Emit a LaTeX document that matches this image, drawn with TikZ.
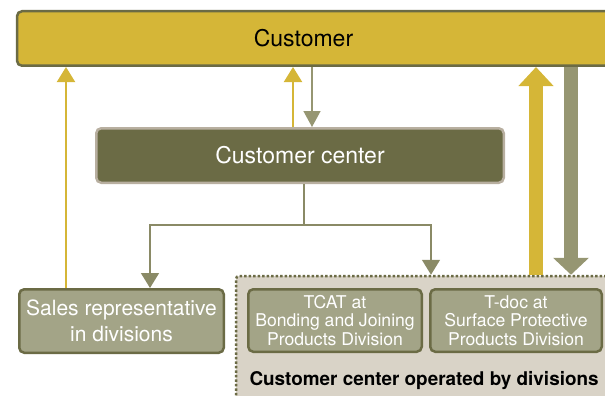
\documentclass[tikz,border=0pt]{standalone}
\usepackage{fontspec}
\setmainfont{TeX Gyre Heros}
\usepackage{tikz}
\usetikzlibrary{arrows.meta}
\definecolor{gold}{HTML}{D5B637}
\definecolor{olive}{HTML}{6B6B45}
\definecolor{sage}{HTML}{A3A487}
\definecolor{greyolive}{HTML}{969672}
\definecolor{treegrey}{HTML}{8A8A66}
\definecolor{sand}{HTML}{D9D3C7}
\definecolor{edgesand}{HTML}{B8AFA0}

\begin{document}
\begin{tikzpicture}[x=1pt,y=-1pt,
	custbox/.style={draw=olive, line width=2.5pt, fill=gold, rounded corners=5pt, inner sep=0pt},
	centrebox/.style={draw=edgesand, line width=2.5pt, fill=olive, rounded corners=5pt, inner sep=0pt, text=white, font=\fontsize{23}{27}\selectfont},
	divbox/.style={draw=olive, line width=2.5pt, fill=sage, rounded corners=5pt, inner sep=0pt, text=white, align=center},
	opsarea/.style={draw=olive, fill=sand, line width=2.5pt, dash pattern=on 2.5pt off 2pt, rounded corners=3pt, inner sep=0pt},
	thinup/.style={draw=gold, line width=2pt, -{Triangle[width=18pt,length=15pt]}},
	thindown/.style={draw=greyolive, line width=1.5pt, -{Triangle[width=17pt,length=16pt]}},
	treeline/.style={draw=treegrey, line width=1.5pt},
	treearrow/.style={treeline, -{Triangle[width=18pt,length=15pt]}},
	bigup/.style={draw=gold, line width=14pt, -{Triangle[width=34pt,length=19pt]}},
	bigdown/.style={draw=greyolive, line width=14pt, -{Triangle[width=35pt,length=17pt]}}]
		\useasboundingbox (0,0) rectangle (605,396);
		\clip (0,0) rectangle (605,396);
		% boxes
		\node[custbox, minimum width=603pt, minimum height=54.5pt] (customer) at (318.5,38.5) {};
		\node[font=\fontsize{23}{27}\selectfont] (custtext) at (303.5,38.5) {Customer};
		\node[centrebox, minimum width=407.5pt, minimum height=54.5pt] (centre) at (300,155.5) {Customer center};
		\node[opsarea, minimum width=414pt, minimum height=154pt] (ops) at (443,353) {};
		\node[divbox, minimum width=204.5pt, minimum height=63.5pt, font=\fontsize{21}{26}\selectfont] (sales) at (121.5,321) {Sales representative\\in divisions};
		\node[divbox, minimum width=173.5pt, minimum height=62.5pt, font=\fontsize{17.6}{18.5}\selectfont] (tcat) at (335,320.5) {TCAT at\\Bonding and Joining\\Products Division};
		\node[divbox, minimum width=171.5pt, minimum height=62.5pt, font=\fontsize{17.6}{18.5}\selectfont] (tdoc) at (516,320.5) {T-doc at\\Surface Protective\\Products Division};
		\node[anchor=base west, font=\bfseries\fontsize{18.9}{22}\selectfont] (opslabel) at (246,385) {Customer center operated by divisions};
		% arrows to and from the customer
		\draw[thinup] (sales.north -| 66,0) -- (customer.south -| 66,0);
		\draw[thinup] (centre.north -| 293,0) -- (customer.south -| 293,0);
		\draw[thindown] (customer.south -| 312,0) -- (centre.north -| 312,0);
		\draw[bigup] (ops.north -| 536,0) -- (customer.south -| 536,0);
		\draw[bigdown] (customer.south -| 571,0) -- (ops.north -| 571,0);
		% tree from the customer center
		\coordinate (split) at (304,225);
		\draw[treeline] (centre.south -| split) -- (split);
		\draw[treearrow] (split) -| (sales.north -| 150,0);
		\draw[treearrow] (split) -| (ops.north -| 431,0);
\end{tikzpicture}
\end{document}
